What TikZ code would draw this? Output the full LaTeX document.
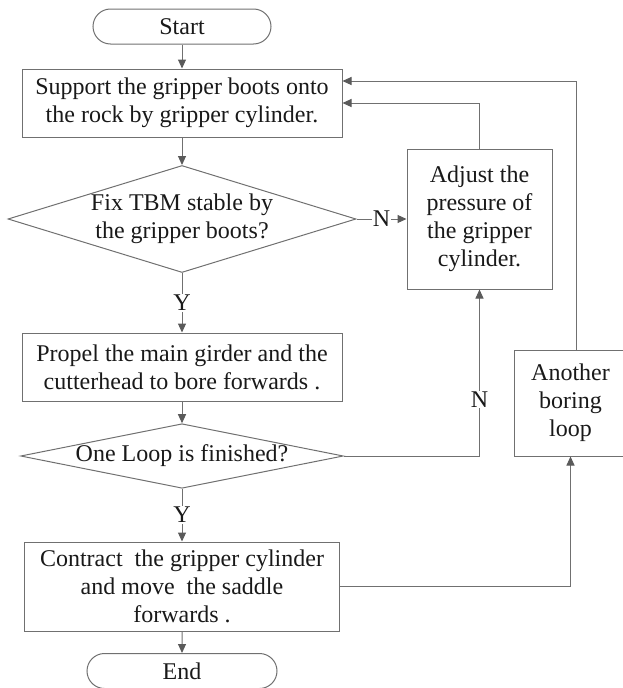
\documentclass[tikz,border=0pt]{standalone}
\usepackage{fontspec}
\setmainfont{Liberation Serif}
\usetikzlibrary{shapes.geometric, shapes.misc, arrows.meta, calc}
\definecolor{linegray}{RGB}{112,112,112}
\definecolor{tipgray}{RGB}{90,90,90}
\definecolor{textdark}{RGB}{25,25,25}
\newcommand{\chartfont}{\fontsize{24}{28}\selectfont}
\tikzset{
  terminal/.style={rounded rectangle, draw=linegray, line width=1pt,
                   minimum height=35pt, inner sep=0pt, font=\chartfont,
                   text=textdark},
  block/.style={rectangle, draw=linegray, line width=1pt, align=center,
                inner sep=0pt, font=\chartfont, text=textdark},
  decision/.style={diamond, draw=linegray, line width=1pt, align=center,
                   inner sep=0pt, font=\chartfont, text=textdark},
  arrow/.style={-{Triangle[length=9pt, width=8pt, color=tipgray]}, line width=1pt, draw=linegray},
  tag/.style={fill=white, inner sep=1pt, font=\chartfont, text=textdark},
}

\begin{document}
\begin{tikzpicture}[x=1pt, y=-1pt]
        \useasboundingbox (0,0) rectangle (623,688);

        % main column
        \node[terminal, minimum width=178pt] (start) at (182,26.5) {Start};
        \node[block, minimum width=320pt, minimum height=68pt] (support) at (182,103)
          {Support the gripper boots onto\\the rock by gripper cylinder.};
        \node[decision, aspect=3.25, minimum width=348pt, minimum height=107pt] (fixdec) at (182,219)
          {Fix TBM stable by\\the gripper boots?};
        \node[block, minimum width=320pt, minimum height=68pt] (propel) at (182,367)
          {Propel the main girder and the\\cutterhead to bore forwards .};
        \node[decision, aspect=5, minimum width=314pt, minimum height=62pt] (loopdec) at (182,456)
          {One Loop is finished?};
        \node[block, minimum width=315pt, minimum height=89pt] (contract) at (182,586.5)
          {Contract\ \ the gripper cylinder\\and move\ \ the saddle\\forwards .};
        \node[terminal, minimum width=190pt] (stop) at (182,671) {End};

        % side boxes
        \node[block, minimum width=145pt, minimum height=140pt] (adjust) at (479.5,219)
          {Adjust the\\pressure of\\the gripper\\cylinder.};
        \node[block, minimum width=113pt, minimum height=106pt] (another) at (570.5,403)
          {Another\\boring\\loop};

        % flow
        \draw[arrow] (start) -- (support);
        \draw[arrow] (support) -- (fixdec);
        \draw[arrow] (fixdec) -- node[tag]{Y} (propel);
        \draw[arrow] (propel) -- (loopdec);
        \draw[arrow] (loopdec) -- node[tag]{Y} (contract);
        \draw[arrow] (contract) -- (stop);

        % loops back
        \draw[arrow] (fixdec.east) -- node[tag]{N} (adjust.west);
        \draw[arrow] (loopdec.east) -| node[tag, pos=0.67]{N} (adjust.south);
        \draw[arrow] (adjust.north) |- (support.east);
        \draw[arrow] (contract.east) -| (another.south);
        \draw[arrow] ([xshift=5.5pt]another.north) |- ([yshift=22pt]support.east);

      \end{tikzpicture}
\end{document}
